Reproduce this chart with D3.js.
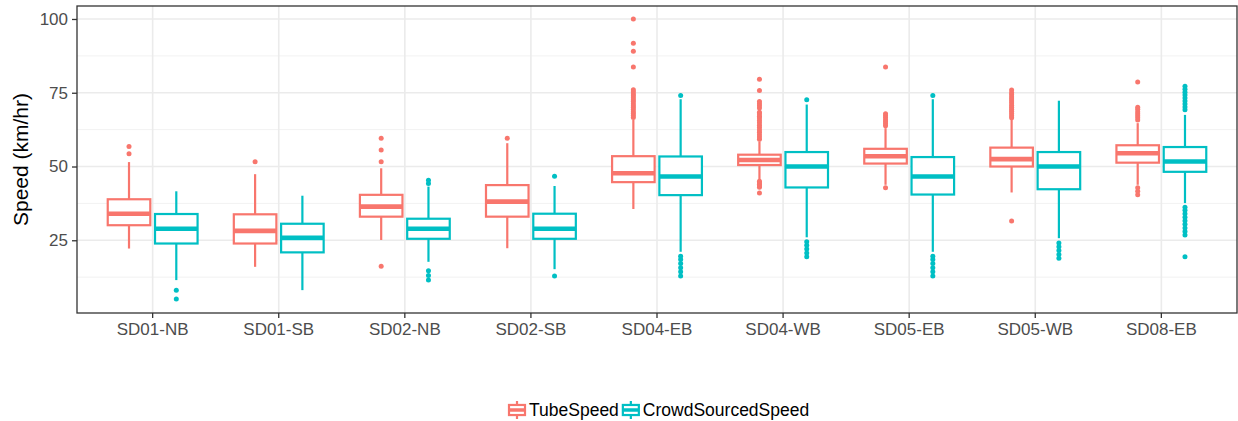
<!DOCTYPE html>
<html><head><meta charset="utf-8">
<script src="https://cdn.jsdelivr.net/npm/d3@7"></script>
<style>body{margin:0;background:#fff;} svg{display:block;} text{font-family:"Liberation Sans",Arial,sans-serif;}</style>
</head><body><svg id="c" width="1238" height="421"></svg>
<script>
const categories = ["SD01-NB","SD01-SB","SD02-NB","SD02-SB","SD04-EB","SD04-WB","SD05-EB","SD05-WB","SD08-EB"];
const seriesNames = ["TubeSpeed","CrowdSourcedSpeed"];
const seriesColors = ["#F8766D","#00BFC4"];
const yTicks = [25,50,75,100];
const yMinor = [12.5,37.5,62.5,87.5];

// TubeSpeed: [lowerWhisker, Q1, median, Q3, upperWhisker]
const tubeStats = [
  [22.2,30.1,34.0,38.9,51.5],
  [16.0,23.9,28.2,33.8,47.4],
  [25.1,33.0,36.4,40.4,49.4],
  [22.3,33.0,38.1,43.7,57.9],
  [35.6,44.7,47.7,53.5,65.8],
  [45.3,50.5,52.2,54.0,58.5],
  [43.8,51.0,53.5,56.0,63.0],
  [41.2,50.0,52.5,56.4,65.8],
  [43.8,51.3,54.5,57.2,64.7]
];
const tubeOutliers = [
  [54.3,56.8],
  [51.6],
  [16.2,51.6,55.6,59.6],
  [59.6],
  [66.6,67.3,68.0,68.6,69.3,70.0,70.6,71.3,72.0,72.6,73.3,74.0,74.6,75.3,76.0,83.7,89.1,91.8,100],
  [41.0,43.0,43.5,44.0,44.5,45.0,59.2,60.0,60.8,61.6,62.4,63.2,64.0,64.8,65.6,66.4,67.0,67.8,68.4,69.8,70.6,71.3,72.0,75.8,79.6],
  [42.8,63.8,64.5,65.2,65.8,66.5,67.2,67.9,83.7],
  [31.5,66.5,67.2,68.0,68.7,69.4,70.1,70.8,71.5,72.2,72.9,73.6,74.3,75.0,75.9],
  [40.4,41.6,42.8,65.8,66.5,67.2,67.9,68.6,69.4,70.1,78.6]
];
// CrowdSourcedSpeed: [lowerWhisker, Q1, median, Q3, upperWhisker]
const crowdStats = [
  [11.5,23.9,28.9,33.9,41.6],
  [8.1,20.9,25.8,30.6,40.1],
  [17.7,25.5,28.9,32.3,43.2],
  [15.2,25.5,28.9,34.0,43.4],
  [21.1,40.3,46.6,53.4,72.8],
  [26.0,42.9,50.0,54.9,71.0],
  [21.1,40.5,46.6,53.2,72.8],
  [25.7,42.3,50.0,54.9,72.3],
  [37.6,48.2,51.7,56.6,67.5]
];
const crowdOutliers = [
  [5.1,8.1],
  [],
  [11.5,13.1,14.7,44.2,45.3],
  [12.9,46.7],
  [12.9,14.3,15.7,17.1,18.5,19.6,74.1],
  [19.4,20.7,22.0,23.3,24.5,72.6],
  [12.9,14.3,15.7,17.1,18.5,19.6,74.1],
  [18.9,20.2,21.5,22.8,24.1],
  [19.4,26.8,28.0,29.2,30.4,31.6,32.8,34.0,35.2,36.2,69.2,70.2,71.2,72.2,73.2,74.2,75.2,76.2,77.2]
];

const svg = d3.select("#c");
const L = 77, R = 1237, T = 6, B = 313;
const x = d3.scaleBand().domain(categories).range([L,R]).paddingInner(0).paddingOuter(0.1);
const step = x.step();
const xs = d3.scaleBand().domain(seriesNames).range([-0.375*step, 0.375*step]).paddingInner(0.1).paddingOuter(0.05);
const y = d3.scaleLinear().domain([0.35,104.4]).range([B,T]);
const color = d3.scaleOrdinal().domain(seriesNames).range(seriesColors);

// grid
const g = svg.append("g");
g.selectAll(".minor").data(yMinor).join("line")
  .attr("x1",L).attr("x2",R).attr("y1",d=>y(d)).attr("y2",d=>y(d))
  .attr("stroke","#F2F2F2").attr("stroke-width",1);
g.selectAll(".major").data(yTicks).join("line")
  .attr("x1",L).attr("x2",R).attr("y1",d=>y(d)).attr("y2",d=>y(d))
  .attr("stroke","#EBEBEB").attr("stroke-width",1.6);
g.selectAll(".vmajor").data(categories).join("line")
  .attr("x1",d=>x(d)+x.bandwidth()/2).attr("x2",d=>x(d)+x.bandwidth()/2).attr("y1",T).attr("y2",B)
  .attr("stroke","#EBEBEB").attr("stroke-width",1.6);

// boxes
const data = [];
categories.forEach((c,i)=>{
  data.push({cat:c, s:seriesNames[0], st:tubeStats[i], out:tubeOutliers[i]});
  data.push({cat:c, s:seriesNames[1], st:crowdStats[i], out:crowdOutliers[i]});
});
const bg = svg.append("g").selectAll("g").data(data).join("g")
  .attr("transform",d=>`translate(${x(d.cat)+x.bandwidth()/2 + xs(d.s)},0)`);
const bw = xs.bandwidth();
bg.append("line").attr("x1",bw/2).attr("x2",bw/2).attr("y1",d=>y(d.st[3])).attr("y2",d=>y(d.st[4]))
  .attr("stroke",d=>color(d.s)).attr("stroke-width",2.2);
bg.append("line").attr("x1",bw/2).attr("x2",bw/2).attr("y1",d=>y(d.st[1])).attr("y2",d=>y(d.st[0]))
  .attr("stroke",d=>color(d.s)).attr("stroke-width",2.2);
bg.append("rect").attr("x",0).attr("width",bw).attr("y",d=>y(d.st[3])).attr("height",d=>y(d.st[1])-y(d.st[3]))
  .attr("fill","#fff").attr("stroke",d=>color(d.s)).attr("stroke-width",2.2);
bg.append("line").attr("x1",0).attr("x2",bw).attr("y1",d=>y(d.st[2])).attr("y2",d=>y(d.st[2]))
  .attr("stroke",d=>color(d.s)).attr("stroke-width",4.6);
bg.each(function(d){
  d3.select(this).selectAll("circle").data(d.out).join("circle")
    .attr("cx",bw/2).attr("cy",v=>y(v)).attr("r",2.5).attr("fill",color(d.s));
});

// panel border
svg.append("rect").attr("x",L).attr("y",T).attr("width",R-L).attr("height",B-T)
  .attr("fill","none").attr("stroke","#333333").attr("stroke-width",1.3);

// axes
const yAxis = d3.axisLeft(y).tickValues(yTicks).tickSize(5).tickPadding(4);
const ya = svg.append("g").attr("transform",`translate(${L},0)`).call(yAxis);
const xAxis = d3.axisBottom(x).tickSize(5).tickPadding(5);
const xa = svg.append("g").attr("transform",`translate(0,${B})`).call(xAxis);
[ya,xa].forEach(a=>{
  a.select(".domain").remove();
  a.selectAll(".tick line").attr("stroke","#333333").attr("stroke-width",1.3);
  a.selectAll(".tick text").attr("fill","#4D4D4D").style("font-size","17px").style("font-family","'Liberation Sans',Arial,sans-serif");
});

// y title
svg.append("text").attr("transform",`translate(28,${(T+B)/2}) rotate(-90)`)
  .attr("text-anchor","middle").style("font-size","21px").attr("fill","#000").text("Speed (km/hr)");

// legend
const leg = svg.append("g");
const keyW = 20, keyH = 18;
let lx = 507;
const ly = 401;
seriesNames.forEach((s,i)=>{
  const k = leg.append("g").attr("transform",`translate(${lx},${ly})`);
  const c = color(s);
  k.append("line").attr("x1",keyW/2).attr("x2",keyW/2).attr("y1",0).attr("y2",keyH).attr("stroke",c).attr("stroke-width",2.2);
  k.append("rect").attr("x",2).attr("y",keyH*0.22).attr("width",keyW-4).attr("height",keyH*0.56).attr("fill","#fff").attr("stroke",c).attr("stroke-width",2.2);
  k.append("line").attr("x1",2).attr("x2",keyW-2).attr("y1",keyH/2).attr("y2",keyH/2).attr("stroke",c).attr("stroke-width",3.5);
  const t = leg.append("text").attr("x",lx+keyW+2).attr("y",ly+keyH/2).attr("dy","0.35em")
    .style("font-size","17.5px").attr("fill","#000").text(s);
  lx = lx + keyW + 2 + t.node().getComputedTextLength() + 2;
});
</script>
</body></html>
